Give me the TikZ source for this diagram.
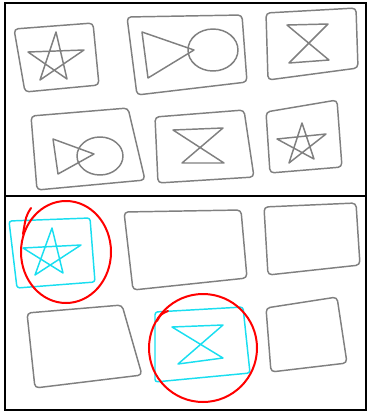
\documentclass[tikz,border=0pt]{standalone}
\usepackage{tikz}
\usetikzlibrary{calc}
\definecolor{penaqua}{RGB}{25,222,240}

\begin{document}
\begin{tikzpicture}[x=0.75pt,y=-0.75pt,
    pen/.style={gray,line width=1.1pt,rounded corners=3pt,line join=round},
    hilite/.style={penaqua,line width=1.1pt,rounded corners=2pt,line join=round},
    ring/.style={red,line width=1.5pt,line cap=round}]
                    \useasboundingbox (0,0) rectangle (368,412);
                    \draw[line width=1.5pt] (5,3) rectangle (366,410);
                    \draw[line width=1.5pt] (5,196) -- (366,196);
                    % top panel
                    \draw[pen] (14,29) -- (93,23) -- (99,85) -- (25,92) -- cycle;
                    \draw[pen,rounded corners=0pt] (40,80) -- (56,32) -- (67,79) -- (28,52) -- (84,50) -- cycle;
                    \draw[pen] (127,17) -- (242,15) -- (247,82) -- (137,95) -- cycle;
                    \draw[pen,rounded corners=0pt] (142,32) -- (194,50) -- (148,78) -- cycle;
                    \draw[pen] (213,50) ellipse [x radius=25,y radius=21];
                    \draw[pen] (266,13) -- (356,8) -- (358,68) -- (268,80) -- cycle;
                    \draw[pen,rounded corners=0pt] (287,25) -- (328,24) -- (289,63) -- (329,60) -- cycle;
                    \draw[pen] (31,116) -- (128,108) -- (145,180) -- (37,190) -- cycle;
                    \draw[pen,rounded corners=0pt] (53,139) -- (94,154) -- (58,174) -- cycle;
                    \draw[pen] (100,156) ellipse [x radius=23,y radius=19];
                    \draw[pen] (155,117) -- (244,110) -- (254,177) -- (158,183) -- cycle;
                    \draw[pen,rounded corners=0pt] (173,130) -- (223,128) -- (182,163) -- (224,163) -- cycle;
                    \draw[pen] (266,112) -- (337,100) -- (342,167) -- (270,173) -- cycle;
                    \draw[pen,rounded corners=0pt] (289,163) -- (302,123) -- (314,159) -- (277,139) -- (326,134) -- cycle;
                    % bottom panel
                    \draw[hilite] (9,221) -- (90,218) -- (95,282) -- (17,288) -- cycle;
                    \draw[hilite,rounded corners=0pt] (35,275) -- (52,228) -- (63,273) -- (23,248) -- (81,245) -- cycle;
                    \draw[ring] (66,252) ellipse [x radius=45,y radius=51];
                    \draw[ring] (31,208) .. controls (26,216) .. (23,234);
                    \draw[pen] (124,212) -- (241,210) -- (247,278) -- (133,290) -- cycle;
                    \draw[pen] (264,207) -- (356,203) -- (360,265) -- (268,275) -- cycle;
                    \draw[pen] (27,313) -- (122,305) -- (142,375) -- (35,388) -- cycle;
                    \draw[hilite] (155,312) -- (243,307) -- (250,373) -- (155,382) -- cycle;
                    \draw[hilite,rounded corners=0pt] (172,327) -- (223,325) -- (178,364) -- (223,358) -- cycle;
                    \draw[ring] (203,348) circle [radius=54];
                    \draw[ring] (168,311) .. controls (161,314) .. (157,321);
                    \draw[pen] (266,308) -- (337,297) -- (347,363) -- (271,372) -- cycle;
                \end{tikzpicture}
\end{document}
